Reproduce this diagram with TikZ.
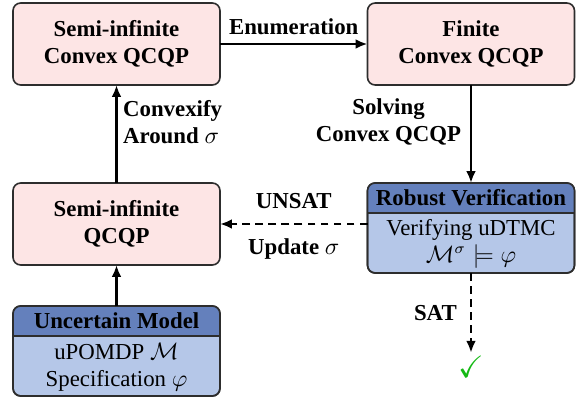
\documentclass[tikz,border=0pt]{standalone}
\usepackage{fontspec}
\setmainfont{Liberation Serif}[BoldFont={Liberation Serif Bold}, ItalicFont={Liberation Serif Italic}]
\usepackage{amssymb}
\usetikzlibrary{arrows.meta,calc}
\definecolor{boxpink}{RGB}{253,229,229}
\definecolor{headblue}{RGB}{100,128,188}
\definecolor{bodyblue}{RGB}{181,199,232}
\definecolor{edgegray}{RGB}{45,45,45}
\definecolor{checkgreen}{RGB}{20,185,20}
\begin{document}
\fontsize{10.5}{12.3}\selectfont
\begin{tikzpicture}[x=0.46pt,y=-0.46pt,
  box/.style={draw=edgegray, line width=0.75pt, rounded corners=3.5pt,
    minimum width=95.2pt, inner sep=0pt, outer sep=0pt},
  pinkbox/.style={box, fill=boxpink, minimum height=37.7pt,
    font=\bfseries, align=center},
  bluebox/.style={box, fill=bodyblue, minimum height=41.4pt},
  rim/.style={draw=edgegray, line width=0.75pt},
  flow/.style={-{Latex[length=5.5pt,width=4.5pt]}, line width=1.1pt},
  dflow/.style={flow, dash pattern=on 3.6pt off 2.4pt},
  lbl/.style={font=\bfseries, align=center, inner sep=0pt}]
\useasboundingbox (0,0) rectangle (580,403);

% optimisation problems
\node[pinkbox] (A) at (116.5,44) {Semi-infinite\\Convex QCQP};
\node[pinkbox] (B) at (471,44) {Finite\\Convex QCQP};
\node[pinkbox] (C) at (116.5,224) {Semi-infinite\\QCQP};

% verification box with a header band
\node[bluebox] (D) at (471,228) {};
\begin{scope}
  \clip[rounded corners=3.5pt] (D.north west) rectangle (D.south east);
  \fill[headblue] (D.north west) rectangle ($(D.north east)+(0,30)$);
\end{scope}
\draw[rim] ($(D.north west)+(0,30)$) -- ($(D.north east)+(0,30)$);
\draw[rim, rounded corners=3.5pt] (D.north west) rectangle (D.south east);
\node[font=\bfseries, inner sep=0pt] (Dh) at ($(D.north)+(0,15)$) {Robust Verification};
\node[align=center, inner sep=0pt] (Db) at ($(D.north)+(0,61)$) {Verifying uDTMC\\$\mathcal{M}^\sigma \models \varphi$};

% model box with a header band
\node[bluebox] (E) at (116.5,351) {};
\begin{scope}
  \clip[rounded corners=3.5pt] (E.north west) rectangle (E.south east);
  \fill[headblue] (E.north west) rectangle ($(E.north east)+(0,30)$);
\end{scope}
\draw[rim] ($(E.north west)+(0,30)$) -- ($(E.north east)+(0,30)$);
\draw[rim, rounded corners=3.5pt] (E.north west) rectangle (E.south east);
\node[font=\bfseries, inner sep=0pt] (Eh) at ($(E.north)+(0,15)$) {Uncertain Model};
\node[align=center, inner sep=0pt] (Eb) at ($(E.north)+(0,61)$) {uPOMDP $\mathcal{M}$\\Specification $\varphi$};

% success mark
\node[text=checkgreen, scale=1.35, inner sep=1pt] (ok) at (471,367) {$\checkmark$};

% connectors
\draw[flow] (A.east) -- node[lbl, above=3.5pt] {Enumeration} (B.west);
\draw[flow] (B.south) -- node[lbl, left=4pt, pos=0.38] {Solving\\Convex QCQP} (D.north);
\draw[flow] (C.north) -- node[lbl, right=2.5pt, align=left, pos=0.62] {Convexify\\Around $\sigma$} (A.south);
\draw[flow] (E.north) -- (C.south);
\draw[dflow] (C.east -| D.west) --
  node[lbl, yshift=10.5pt] {UNSAT}
  node[lbl, yshift=-11.5pt] {Update $\sigma$} (C.east);
\draw[dflow] (D.south) -- node[lbl, left=6pt] {SAT} (ok.north);
\end{tikzpicture}
\end{document}
